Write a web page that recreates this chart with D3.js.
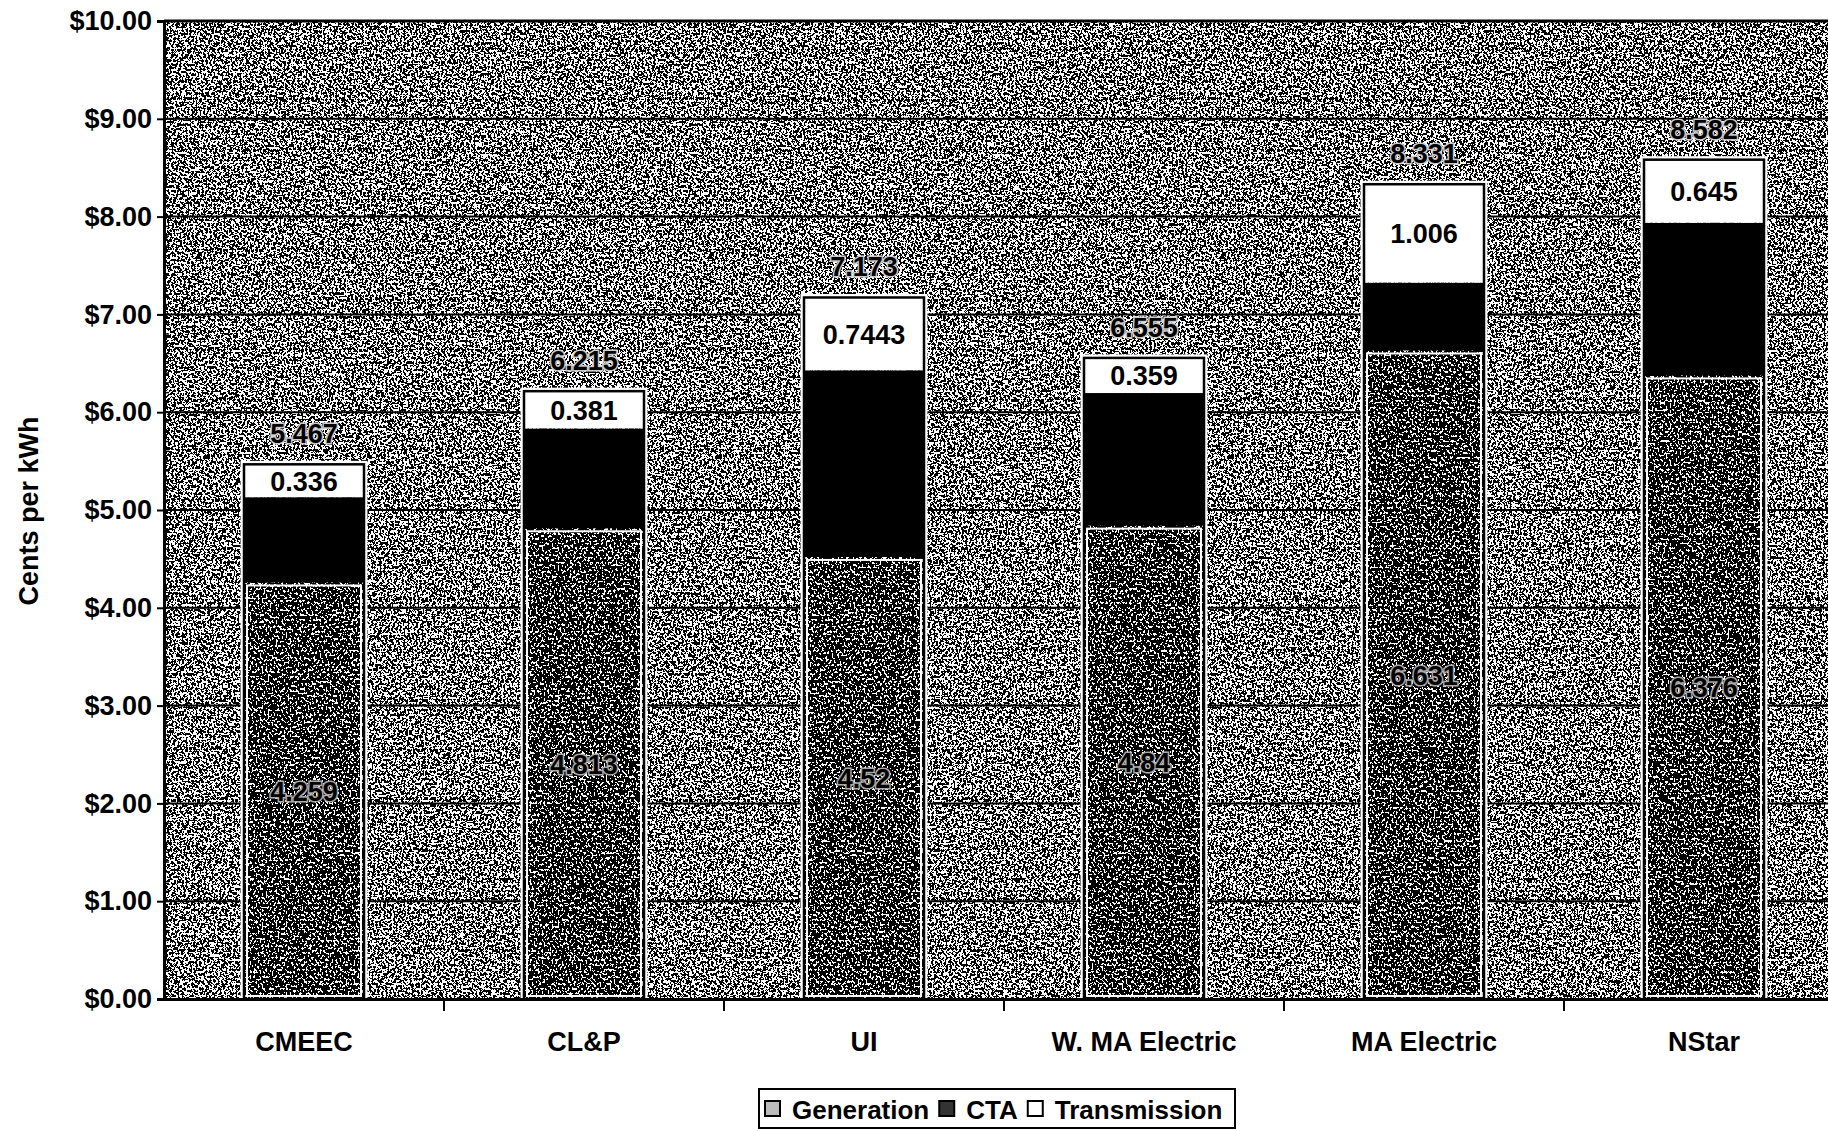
<!DOCTYPE html>
<html>
<head>
<meta charset="utf-8">
<script src="https://cdn.jsdelivr.net/npm/d3@7"></script>
<style>
  body { margin: 0; background: #fff; }
  text { font-family: "Liberation Sans", Arial, sans-serif; fill: #000; }
</style>
</head>
<body>
<svg id="chart" width="1828" height="1131"></svg>
<script>
// size of the page
var width = 1828, height = 1131;

// categories (utilities)
var categories = ["CMEEC", "CL&P", "UI", "W. MA Electric", "MA Electric", "NStar"];

// series values, cents per kWh
var generation   = [4.259, 4.813, 4.52, 4.84, 6.631, 6.376];
var cta          = [0.872, 1.021, 1.9087, 1.356, 0.694, 1.561];
var transmission = [0.336, 0.381, 0.7443, 0.359, 1.006, 0.645];
var totals       = [5.467, 6.215, 7.173, 6.555, 8.331, 8.582];

// y axis ticks
var yTicks = [0, 1, 2, 3, 4, 5, 6, 7, 8, 9, 10];

var seriesNames = ["Generation", "CTA", "Transmission"];

// plot area
var plotLeft = 164, plotRight = 1844, plotTop = 21, plotBottom = 999;

var svg = d3.select('#chart');

var rows = categories.map(function(c, i) {
  return {cat: c, Generation: generation[i], CTA: cta[i], Transmission: transmission[i], total: totals[i]};
});

var x = d3.scaleBand()
  .domain(categories)
  .range([plotLeft, plotRight])
  .padding(0);

var barWidth = 120;

var y = d3.scaleLinear()
  .domain([0, 10])
  .range([plotBottom, plotTop]);

// noise textures for the scanned look
var defs = svg.append('defs');
function noiseFilter(id, freq, offset, seed) {
  var f = defs.append('filter')
    .attr('id', id)
    .attr('x', 0).attr('y', 0).attr('width', 1).attr('height', 1)
    .attr('color-interpolation-filters', 'sRGB');
  f.append('feTurbulence')
    .attr('type', 'fractalNoise')
    .attr('baseFrequency', freq)
    .attr('numOctaves', 2)
    .attr('seed', seed);
  f.append('feColorMatrix')
    .attr('type', 'matrix')
    .attr('values', '0 0 0 0 0  0 0 0 0 0  0 0 0 0 0  1 0 0 0 ' + offset);
  f.append('feComponentTransfer')
    .append('feFuncA')
    .attr('type', 'discrete')
    .attr('tableValues', '0 1');
}
noiseFilter('bgNoise', '0.5 0.42', 0.0, 3);
noiseFilter('genNoise', '0.5 0.42', 0.07, 7);

// plot background
svg.append('rect')
  .attr('x', plotLeft).attr('y', plotTop)
  .attr('width', plotRight - plotLeft).attr('height', plotBottom - plotTop)
  .attr('fill', '#fff');
svg.append('rect')
  .attr('x', plotLeft).attr('y', plotTop)
  .attr('width', plotRight - plotLeft).attr('height', plotBottom - plotTop)
  .attr('fill', '#000')
  .attr('filter', 'url(#bgNoise)');

// gridlines
svg.append('g')
  .selectAll('line')
  .data(yTicks.filter(function(d) { return d > 0; }))
  .enter().append('line')
  .attr('x1', plotLeft).attr('x2', plotRight)
  .attr('y1', function(d) { return y(d); })
  .attr('y2', function(d) { return y(d); })
  .attr('stroke', '#000')
  .attr('stroke-width', function(d) { return d == 10 ? 3 : 2; });

// stacked bars
var stack = d3.stack().keys(seriesNames);
var layers = stack(rows);

function barX(d) { return x(d.data.cat) + (x.bandwidth() - barWidth) / 2; }

// white halo around each bar
svg.append('g')
  .selectAll('rect')
  .data(rows)
  .enter().append('rect')
  .attr('x', function(d) { return x(d.cat) + (x.bandwidth() - barWidth) / 2; })
  .attr('y', function(d) { return y(d.Generation + d.CTA + d.Transmission); })
  .attr('width', barWidth)
  .attr('height', function(d) { return y(0) - y(d.Generation + d.CTA + d.Transmission); })
  .attr('fill', 'none')
  .attr('stroke', '#fff')
  .attr('stroke-width', 7);

// generation
var genLayer = svg.append('g');
genLayer.selectAll('rect.base')
  .data(layers[0])
  .enter().append('rect')
  .attr('class', 'base')
  .attr('x', barX)
  .attr('y', function(d) { return y(d[1]); })
  .attr('width', barWidth)
  .attr('height', function(d) { return y(d[0]) - y(d[1]); })
  .attr('fill', '#fff');
genLayer.selectAll('rect.tex')
  .data(layers[0])
  .enter().append('rect')
  .attr('class', 'tex')
  .attr('x', barX)
  .attr('y', function(d) { return y(d[1]); })
  .attr('width', barWidth)
  .attr('height', function(d) { return y(d[0]) - y(d[1]); })
  .attr('fill', '#000')
  .attr('filter', 'url(#genNoise)');
genLayer.selectAll('rect.inner')
  .data(layers[0])
  .enter().append('rect')
  .attr('class', 'inner')
  .attr('x', function(d) { return barX(d) + 3; })
  .attr('y', function(d) { return y(d[1]) + 3; })
  .attr('width', barWidth - 6)
  .attr('height', function(d) { return y(d[0]) - y(d[1]) - 6; })
  .attr('fill', 'none')
  .attr('stroke', '#fff')
  .attr('stroke-width', 2);

// CTA and transmission
var fills = {CTA: '#000', Transmission: '#fff'};
layers.slice(1).forEach(function(layer) {
  svg.append('g')
    .selectAll('rect')
    .data(layer)
    .enter().append('rect')
    .attr('x', barX)
    .attr('y', function(d) { return y(d[1]); })
    .attr('width', barWidth)
    .attr('height', function(d) { return y(d[0]) - y(d[1]); })
    .attr('fill', fills[layer.key]);
});

// outline around each bar
svg.append('g')
  .selectAll('rect')
  .data(rows)
  .enter().append('rect')
  .attr('x', function(d) { return x(d.cat) + (x.bandwidth() - barWidth) / 2; })
  .attr('y', function(d) { return y(d.Generation + d.CTA + d.Transmission); })
  .attr('width', barWidth)
  .attr('height', function(d) { return y(0) - y(d.Generation + d.CTA + d.Transmission); })
  .attr('fill', 'none')
  .attr('stroke', '#000')
  .attr('stroke-width', 2.5);

// labels: generation (middle of segment)
svg.append('g')
  .selectAll('text')
  .data(layers[0])
  .enter().append('text')
  .attr('x', function(d) { return x(d.data.cat) + x.bandwidth() / 2; })
  .attr('y', function(d) { return y((d[0] + d[1]) / 2) + 10; })
  .attr('text-anchor', 'middle')
  .style('font-size', '27px')
  .style('font-weight', 'bold')
  .style('paint-order', 'stroke')
  .style('stroke', '#aaa')
  .style('stroke-width', '3px')
  .text(function(d) { return String(d.data.Generation); });

// labels: transmission (inside white box)
svg.append('g')
  .selectAll('text')
  .data(layers[2])
  .enter().append('text')
  .attr('x', function(d) { return x(d.data.cat) + x.bandwidth() / 2; })
  .attr('y', function(d) { return y((d[0] + d[1]) / 2) + 10; })
  .attr('text-anchor', 'middle')
  .style('font-size', '27px')
  .style('font-weight', 'bold')
  .text(function(d) { return String(d.data.Transmission); });

// labels: totals above bars
svg.append('g')
  .selectAll('text')
  .data(rows)
  .enter().append('text')
  .attr('x', function(d) { return x(d.cat) + x.bandwidth() / 2; })
  .attr('y', function(d) { return y(d.total) - 21; })
  .attr('text-anchor', 'middle')
  .style('font-size', '27px')
  .style('font-weight', 'bold')
  .style('paint-order', 'stroke')
  .style('stroke', '#ccc')
  .style('stroke-width', '3px')
  .text(function(d) { return String(d.total); });

// y axis
var yAxis = d3.axisLeft(y)
  .tickValues(yTicks)
  .tickSize(7)
  .tickPadding(5)
  .tickFormat(d3.format('$.2f'));
var gy = svg.append('g')
  .attr('transform', 'translate(' + plotLeft + ',0)')
  .call(yAxis);
gy.select('.domain').attr('stroke', '#000').attr('stroke-width', 3);
gy.selectAll('.tick line').attr('stroke', '#000').attr('stroke-width', 2);
gy.selectAll('.tick text')
  .style('font-family', '"Liberation Sans", Arial, sans-serif')
  .style('font-size', '27px')
  .style('font-weight', 'bold')
  .attr('fill', '#000');

// minor ticks inside the y axis
svg.append('g')
  .selectAll('line')
  .data(d3.range(0, 100).map(function(d) { return d / 10; }))
  .enter().append('line')
  .attr('x1', plotLeft).attr('x2', plotLeft + 5)
  .attr('y1', function(d) { return y(d); })
  .attr('y2', function(d) { return y(d); })
  .attr('stroke', '#000')
  .attr('stroke-width', 1.5);

// x axis
var xAxis = d3.axisBottom(x).tickSize(0).tickPadding(33);
var gx = svg.append('g')
  .attr('transform', 'translate(0,' + plotBottom + ')')
  .call(xAxis);
gx.select('.domain').attr('stroke', '#000').attr('stroke-width', 3);
gx.selectAll('.tick text')
  .style('font-family', '"Liberation Sans", Arial, sans-serif')
  .style('font-size', '27px')
  .style('font-weight', 'bold')
  .attr('fill', '#000');

// tick marks between categories
svg.append('g')
  .selectAll('line')
  .data(categories.slice(1))
  .enter().append('line')
  .attr('x1', function(d) { return x(d); })
  .attr('x2', function(d) { return x(d); })
  .attr('y1', plotBottom).attr('y2', plotBottom + 12)
  .attr('stroke', '#000')
  .attr('stroke-width', 2);

// y axis title
svg.append('text')
  .attr('transform', 'translate(38,' + 511 + ') rotate(-90)')
  .attr('text-anchor', 'middle')
  .style('font-size', '27px')
  .style('font-weight', 'bold')
  .text('Cents per kWh');

// legend
var legend = svg.append('g').attr('transform', 'translate(759,1089)');
legend.append('rect')
  .attr('x', 0).attr('y', 0)
  .attr('width', 476).attr('height', 39)
  .attr('fill', '#fff')
  .attr('stroke', '#000')
  .attr('stroke-width', 2);

var lx = 6;
seriesNames.forEach(function(name) {
  var item = legend.append('g').attr('transform', 'translate(' + lx + ',0)');
  item.append('rect')
    .attr('x', 0).attr('y', 12)
    .attr('width', 15).attr('height', 15)
    .attr('fill', name == 'CTA' ? '#333' : (name == 'Generation' ? '#bbb' : '#fff'))
    .attr('stroke', '#000')
    .attr('stroke-width', 2);
  var t = item.append('text')
    .attr('x', 27).attr('y', 30)
    .style('font-size', '26px')
    .style('font-weight', 'bold')
    .text(name);
  lx += 27 + t.node().getComputedTextLength() + 10;
});
</script>
</body>
</html>
